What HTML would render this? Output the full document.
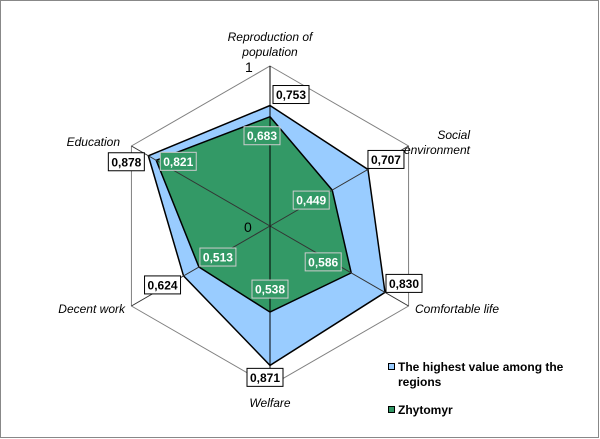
<!DOCTYPE html>
<html><head><meta charset="utf-8"><style>
body{margin:0;background:#fff}
svg{display:block;font-family:"Liberation Sans",Arial,sans-serif}
</style></head><body>
<svg id="chart" width="600" height="439">
<rect x="0.5" y="0.5" width="598" height="437" fill="#fff" stroke="#888"/>
<g id="grid"></g><g id="series"></g><g id="labels"></g>
<text x="245" y="72" font-size="14">1</text>
<text x="244" y="232" font-size="14">0</text>
<g>
<rect x="388.5" y="363.5" width="6" height="6" fill="#99ccff" stroke="#000"/>
<text x="398" y="371" font-size="12" font-weight="bold">The highest value among the</text>
<text x="398" y="386" font-size="12" font-weight="bold">regions</text>
<rect x="388.5" y="406.5" width="6" height="6" fill="#339966" stroke="#000"/>
<text x="398" y="414" font-size="12" font-weight="bold">Zhytomyr</text>
</g>
</svg>
<script>
const categories=["Reproduction of population","Social environment","Comfortable life","Welfare","Decent work","Education"];
const highest=[0.753,0.707,0.830,0.871,0.624,0.878];
const zhytomyr=[0.683,0.449,0.586,0.538,0.513,0.821];
const valueLabelsHigh=["0,753","0,707","0,830","0,871","0,624","0,878"];
const valueLabelsZh=["0,683","0,449","0,586","0,538","0,513","0,821"];
const NS="http://www.w3.org/2000/svg";
const cx=270,cy=226,R=160;
function pt(i,v){const a=(-90+60*i)*Math.PI/180;return [cx+R*v*Math.cos(a),cy+R*v*Math.sin(a)];}
function mk(tag,attrs,parent){const e=document.createElementNS(NS,tag);for(const k in attrs)e.setAttribute(k,attrs[k]);parent.appendChild(e);return e;}
const grid=document.getElementById('grid'),ser=document.getElementById('series'),lab=document.getElementById('labels');
const hex=mk('polygon',{points:categories.map((c,i)=>pt(i,1).join(',')).join(' '),fill:'none',stroke:'#808080','stroke-width':1},grid);


function poly(vals,fill,name){const p=mk('polygon',{points:vals.map((v,i)=>pt(i,v).join(',')).join(' '),fill:fill,stroke:'#000','stroke-width':1.5},ser);

}
poly(highest,'#99ccff','series-highest-area');
poly(zhytomyr,'#339966','series-zhytomyr-area');
categories.forEach((c,i)=>{const [x,y]=pt(i,1);const l=mk('line',{x1:cx,y1:cy,x2:x,y2:y,stroke:i==0||i==3?'#000':'#333','stroke-width':1},ser);

});
const axisText=[[["Reproduction of","population"],270,41,'middle'],[["Social","environment"],470,139,'end'],[["Comfortable life"],415,313,'start'],[["Welfare"],270,407,'middle'],[["Decent work"],125,313,'end'],[["Education"],120,146,'end']];
axisText.forEach((a,i)=>{a[0].forEach((s,j)=>{const t=mk('text',{x:a[1],y:a[2]+j*15,'font-size':12,'font-style':'italic','text-anchor':a[3]},lab);t.textContent=s;

});});
const offH=[[21,-11],[18,-10],[19,-9],[-5,12],[-21,9],[-22,6]];
const offZ=[[-8,19],[-21,10],[-28,-11],[0,-23],[19,-10],[22,1]];
function box(vals,txts,offs,fill,color,name){vals.forEach((v,i)=>{const [x,y]=pt(i,v);const bx=x+offs[i][0],by=y+offs[i][1];
const r=mk('rect',{x:bx-18,y:by-9,width:36,height:18,fill:fill,stroke:fill=='#fff'?'#000':'#ccc','stroke-width':1},lab);


const t=mk('text',{x:bx,y:by+4.5,'font-size':12,'font-weight':'bold','text-anchor':'middle',fill:color},lab);t.textContent=txts[i];

});}
box(highest,valueLabelsHigh,offH,'#fff','#000','highest');
box(zhytomyr,valueLabelsZh,offZ,'#339966','#fff','zhytomyr');
</script>
</body></html>
